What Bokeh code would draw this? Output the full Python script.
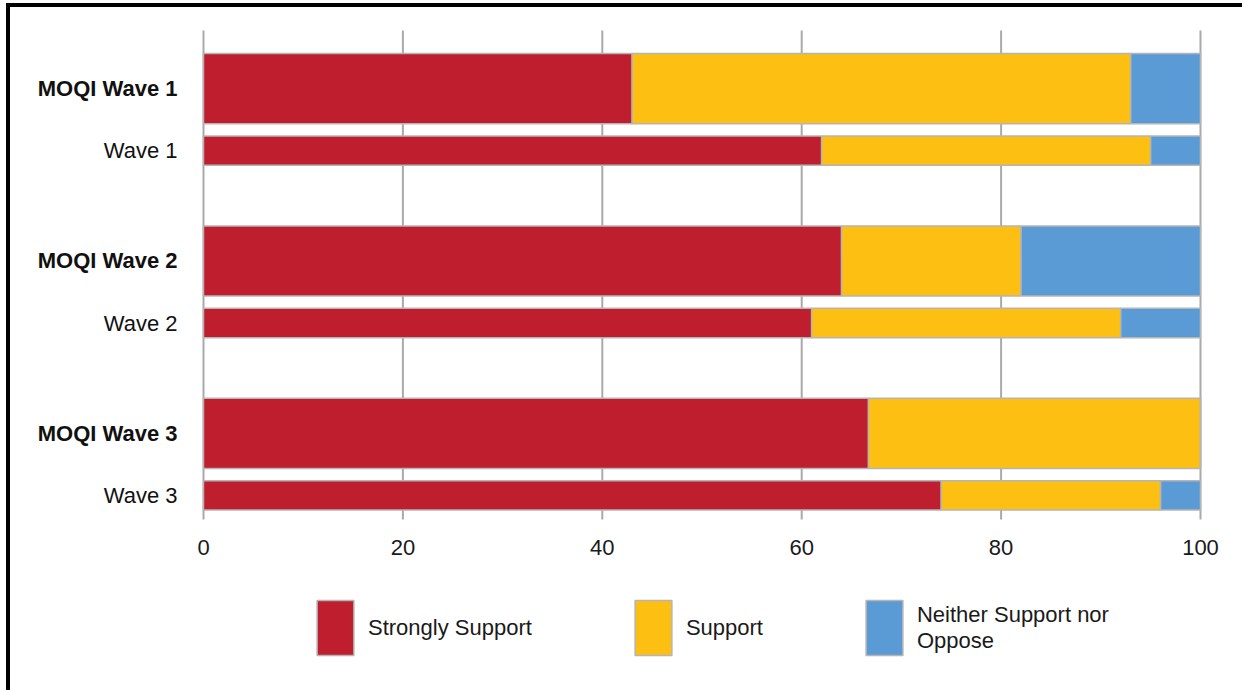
from bokeh.plotting import figure
from bokeh.models import ColumnDataSource, Range1d, Legend, LegendItem
from bokeh.core.properties import value
from bokeh.embed import file_html
from bokeh.resources import INLINE

# ---- data ----
categories = ["MOQI Wave 1", "Wave 1", "MOQI Wave 2", "Wave 2", "MOQI Wave 3", "Wave 3"]
strongly_support = [43, 62, 64, 61, 66.7, 74]
support = [50, 33, 18, 31, 33.3, 22]
neither = [7, 5, 18, 8, 0, 4]
series_names = ["Strongly Support", "Support", "Neither Support nor\nOppose"]
x_ticks = [0, 20, 40, 60, 80, 100]
x_tick_labels = [str(t) for t in x_ticks]

colors = ["#BE1E2D", "#FDBF11", "#5B9BD5"]
FONT = "Liberation Sans"

# ---- layout (screen geometry) ----
W, H = 1232, 683                    # canvas = frame
px_x = 9.97                         # px per x unit
x_start = -193 / px_x               # value 0 sits 193 px from frame left
x_end = x_start + W / px_x
bar_lo, bar_hi = -0.5, 2.337        # extent of the bar region (y units)
px_y = 489 / (bar_hi - bar_lo)
y_end = bar_hi + 23 / px_y
y_start = y_end - H / px_y

ys, hs, styles = [], [], []
for i, c in enumerate(categories):
    g, thin = i // 2, i % 2
    ys.append((2 - g) - 0.36 * thin)
    hs.append(0.17 if thin else 0.407)
    styles.append("normal" if thin else "bold")

src = ColumnDataSource(dict(cat=categories, y=ys, h=hs, style=styles,
                            strong=strongly_support, support=support, neither=neither,
                            x0=[0] * len(categories)))
tick_src = ColumnDataSource(dict(x=x_ticks, y0=[bar_lo] * len(x_ticks),
                                 y1=[bar_hi] * len(x_ticks), t=x_tick_labels))

p = figure(frame_width=W, frame_height=H, x_range=Range1d(x_start, x_end),
           y_range=Range1d(y_start, y_end), output_backend="svg", toolbar_location=None,
           min_border=0)
p.styles = {"margin-top": "3px", "margin-left": "6px",
            "border-top": "4px solid black", "border-left": "4px solid black"}
p.outline_line_color = None
p.background_fill_color = "white"
p.border_fill_color = "white"
p.xaxis.visible = False
p.yaxis.visible = False
p.xgrid.visible = False
p.ygrid.visible = False

# vertical grid lines at the x ticks (only across the bar region)
p.segment(x0="x", y0="y0", x1="x", y1="y1", source=tick_src,
          line_color="#aaaaaa", line_width=2)

renderers = p.hbar_stack(["strong", "support", "neither"], y="y", height="h",
                         color=colors, line_color="#b5b5b5", line_width=1.5, source=src)

# category labels
p.text(x="x0", y="y", text="cat", source=src, x_offset=-26, text_align="right",
       text_baseline="middle", text_font=value(FONT), text_font_size="22px",
       text_font_style="style", text_color="#111111")

# x tick labels
p.text(x="x", y="y0", text="t", source=tick_src, y_offset=20, text_align="center",
       text_baseline="top", text_font=value(FONT), text_font_size="22px",
       text_color="#1a1a1a")

legend = Legend(items=[LegendItem(label=n, renderers=[r]) for n, r in zip(series_names, renderers)],
                orientation="horizontal", location=(302, 28), glyph_width=46, glyph_height=69,
                label_standoff=10, spacing=98, padding=0, margin=0,
                label_text_font=FONT, label_text_font_size="22px", label_text_color="#1a1a1a",
                label_text_line_height=1.27,
                border_line_color=None, background_fill_alpha=0)
p.add_layout(legend)

open("out.html", "w").write(file_html(p, INLINE))
